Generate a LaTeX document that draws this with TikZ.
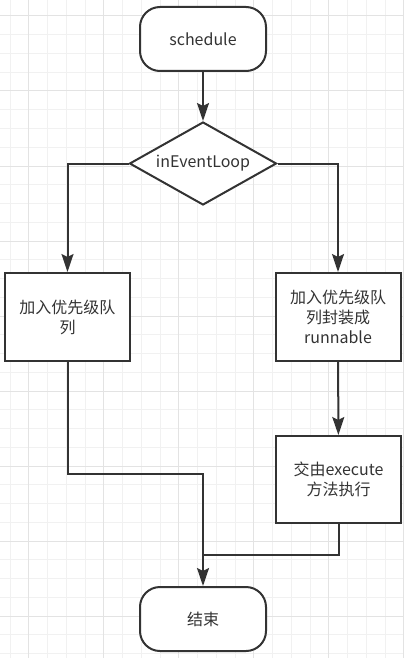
\documentclass[tikz,border=0pt]{standalone}
\usepackage{fontspec}
\setmainfont{Noto Sans CJK SC}
\usetikzlibrary{shapes.geometric,arrows.meta}

\definecolor{ink}{HTML}{333333}
\definecolor{gridminor}{HTML}{F1F1F1}
\definecolor{gridmajor}{HTML}{E3E3E3}

\tikzset{
    flowline/.style={draw=ink, line width=2pt},
    arr/.style={flowline, -{Stealth[length=18pt,width=12pt,inset=3pt]}},
    term/.style={draw=ink, line width=2pt, fill=white, rounded corners=20pt,
        minimum width=126pt, minimum height=64pt, inner sep=0pt},
    proc/.style={draw=ink, line width=2pt, fill=white, align=center,
        minimum width=125pt, minimum height=88pt, inner sep=0pt},
    cond/.style={diamond, draw=ink, line width=2pt, fill=white, shape aspect=1.77,
        minimum width=147pt, minimum height=83pt, inner sep=0pt},
}

\begin{document}
\begin{tikzpicture}[x=1pt, y=-1pt,
        every node/.style={font=\fontsize{16pt}{20pt}\selectfont, text=ink}]
        \useasboundingbox (0,0) rectangle (404,658);

        % Grid paper
        \fill[white] (0,0) rectangle (404,658);
        \foreach \i in {0,...,21}
            \draw[gridminor, line width=1pt] ({10+18.75*\i},0) -- ({10+18.75*\i},658);
        \foreach \j in {0,...,34}
            \draw[gridminor, line width=1pt] (0,{16+18.75*\j}) -- (404,{16+18.75*\j});
        \foreach \i in {0,...,5}
            \draw[gridmajor, line width=1pt] ({28.75+75*\i},0) -- ({28.75+75*\i},658);
        \foreach \j in {0,...,8}
            \draw[gridmajor, line width=1pt] (0,{16+75*\j}) -- (404,{16+75*\j});

        % Shapes
        \node[term] (sched) at (203,39) {schedule};
        \node[cond] (loop) at (203,163.5) {inEventLoop};
        \node[proc] (queue) at (67.5,317) {加入优先级队\\列};
        \node[proc] (wrap) at (338,317) {加入优先级队\\列封装成\\runnable};
        \node[proc, minimum height=87pt] (exec) at (338.5,479.5) {交由execute\\方法执行};
        \node[term] (fin) at (203,619) {结束};

        % Bends
        \coordinate (bendl) at (203,474);
        \coordinate (bendr) at (203,555);

        % Connectors
        \draw[arr] (sched) -- (loop);
        \draw[arr] (loop.west) -| (queue.north);
        \draw[arr] (loop.east) -| (wrap.north);
        \draw[arr] (wrap) -- (exec);
        \draw[arr] (queue.south) |- (bendl) -- (fin.north);
        \draw[flowline] (exec.south) |- (bendr);
    \end{tikzpicture}
\end{document}
